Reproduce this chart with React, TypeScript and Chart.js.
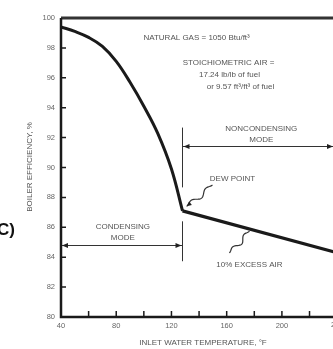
import { useEffect, useRef } from 'react';
import { Chart, registerables } from 'chart.js';

Chart.register(...registerables);

// ---- data ----
const condensingTemps = [40, 50, 60, 70, 80, 90, 100, 110, 120, 128];
const condensingEff = [99.4, 99.1, 98.7, 98.1, 97.1, 95.7, 94.1, 92.3, 89.9, 87.1];
const noncondensingTemps = [128, 240];
const noncondensingEff = [87.1, 84.3];
const xTickValues = [60, 80, 100, 120, 140, 160, 180, 200, 220];
const xLabelValues = [40, 80, 120, 160, 200];
const yTickValues = [82, 84, 86, 88, 90, 92, 94, 96, 98];
const dewPointTemp = 128;

const FONT = '"Liberation Sans", Arial, sans-serif';
const TEXT = '#555';
const LINE = '#1a1a1a';

function squiggle(ctx: CanvasRenderingContext2D, ax: number, ay: number, bx: number, by: number, arrowAtEnd: boolean) {
  const dx = bx - ax;
  const dy = by - ay;
  const len = Math.hypot(dx, dy);
  const ux = dx / len, uy = dy / len;
  const nx = -uy, ny = ux;
  ctx.beginPath();
  const n = 30;
  for (let i = 0; i <= n; i++) {
    const t = i / n;
    const env = Math.sin(Math.PI * t);
    const off = 3.2 * env * Math.sin(t * Math.PI * 3);
    const x = ax + dx * t + nx * off;
    const y = ay + dy * t + ny * off;
    if (i === 0) ctx.moveTo(x, y); else ctx.lineTo(x, y);
  }
  ctx.stroke();
  if (arrowAtEnd) {
    ctx.beginPath();
    ctx.moveTo(bx, by);
    ctx.lineTo(bx - ux * 5 + nx * 2.2, by - uy * 5 + ny * 2.2);
    ctx.lineTo(bx - ux * 5 - nx * 2.2, by - uy * 5 - ny * 2.2);
    ctx.closePath();
    ctx.fill();
  }
}

function arrowHead(ctx: CanvasRenderingContext2D, x: number, y: number, dir: number) {
  ctx.beginPath();
  ctx.moveTo(x, y);
  ctx.lineTo(x - dir * 6, y - 2.5);
  ctx.lineTo(x - dir * 6, y + 2.5);
  ctx.closePath();
  ctx.fill();
}

const annotationPlugin = {
  id: 'boilerAnnotations',
  afterDraw(chart: any) {
    const { ctx, chartArea } = chart;
    const xs = chart.scales.x;
    const ys = chart.scales.y;
    const px = (v: number) => xs.getPixelForValue(v);
    const py = (v: number) => ys.getPixelForValue(v);
    ctx.save();

    // frame: top line, left and bottom axes
    ctx.strokeStyle = '#333';
    ctx.lineWidth = 3;
    ctx.beginPath();
    ctx.moveTo(chartArea.left, chartArea.top);
    ctx.lineTo(chartArea.right, chartArea.top);
    ctx.stroke();
    ctx.strokeStyle = LINE;
    ctx.lineWidth = 2.5;
    ctx.beginPath();
    ctx.moveTo(chartArea.left, chartArea.top);
    ctx.lineTo(chartArea.left, chartArea.bottom);
    ctx.lineTo(chartArea.right, chartArea.bottom);
    ctx.stroke();

    // inside tick marks
    ctx.lineWidth = 1.5;
    ctx.beginPath();
    for (const v of xTickValues) {
      const x = px(v);
      ctx.moveTo(x, chartArea.bottom);
      ctx.lineTo(x, chartArea.bottom - 6);
    }
    for (const v of yTickValues) {
      const y = py(v);
      ctx.moveTo(chartArea.left, y);
      ctx.lineTo(chartArea.left + 5, y);
    }
    ctx.stroke();

    // texts
    ctx.fillStyle = TEXT;
    ctx.font = `8px ${FONT}`;
    ctx.textAlign = 'center';
    ctx.textBaseline = 'middle';
    const txt = (s: string, x: number, y: number) => ctx.fillText(s, px(x), py(y));
    txt('NATURAL GAS = 1050 Btu/ft\u00B3', 138.2, 98.66);
    txt('STOICHIOMETRIC AIR =', 161.3, 96.99);
    txt('17.24 lb/lb of fuel', 162, 96.19);
    txt('or 9.57 ft\u00B3/ft\u00B3 of fuel', 170, 95.38);
    txt('NONCONDENSING', 185.1, 92.58);
    txt('MODE', 185.1, 91.84);
    txt('CONDENSING', 84.8, 86.02);
    txt('MODE', 84.8, 85.28);
    txt('DEW POINT', 164.2, 89.23);
    txt('10% EXCESS AIR', 176.5, 83.48);

    // dew point vertical line
    ctx.strokeStyle = '#333';
    ctx.fillStyle = '#222';
    ctx.lineWidth = 1;
    const xd = px(dewPointTemp);
    ctx.beginPath();
    ctx.moveTo(xd, py(92.67));
    ctx.lineTo(xd, py(88.67));
    ctx.moveTo(xd, py(86.4));
    ctx.lineTo(xd, py(83.73));
    ctx.stroke();

    // noncondensing arrow
    const yN = Math.round(py(91.44)) + 0.5;
    ctx.beginPath();
    ctx.moveTo(xd, yN);
    ctx.lineTo(chartArea.right, yN);
    ctx.stroke();
    arrowHead(ctx, xd + 1, yN, -1);
    arrowHead(ctx, chartArea.right, yN, 1);

    // condensing arrow
    const yC = Math.round(py(84.82)) + 0.5;
    ctx.beginPath();
    ctx.moveTo(chartArea.left + 1, yC);
    ctx.lineTo(xd, yC);
    ctx.stroke();
    arrowHead(ctx, chartArea.left + 1, yC, -1);
    arrowHead(ctx, xd - 1, yC, 1);

    // squiggles
    ctx.lineWidth = 1.2;
    squiggle(ctx, px(149.7), py(88.83), px(131), py(87.4), true);
    squiggle(ctx, px(176.5), py(85.75), px(162), py(84.28), false);

    // axis titles
    ctx.fillStyle = TEXT;
    ctx.font = `8px ${FONT}`;
    ctx.textAlign = 'center';
    ctx.fillText('INLET WATER TEMPERATURE, \u00B0F', 203, 343);
    ctx.save();
    ctx.translate(30, 167);
    ctx.rotate(-Math.PI / 2);
    ctx.fillText('BOILER EFFICIENCY, %', 0, 0);
    ctx.restore();

    // partially visible tick label beyond the right edge
    ctx.fillStyle = '#666';
    ctx.font = `7.5px ${FONT}`;
    ctx.textBaseline = 'top';
    ctx.fillText('240', px(240), chartArea.bottom + 4);

    // panel label (cut at left edge)
    ctx.fillStyle = '#111';
    ctx.font = `bold 17px ${FONT}`;
    ctx.textAlign = 'right';
    ctx.textBaseline = 'middle';
    ctx.fillText('(C)', 15, 230);

    ctx.restore();
  },
};

export default function App() {
  const ref = useRef<HTMLCanvasElement | null>(null);
  useEffect(() => {
    if (!ref.current) return;
    const chart = new Chart(ref.current, {
      type: 'line',
      data: {
        datasets: [
          {
            data: condensingTemps.map((t, i) => ({ x: t, y: condensingEff[i] })),
            borderColor: LINE,
            borderWidth: 3,
            pointRadius: 0,
            tension: 0.4,
            fill: false,
          },
          {
            data: noncondensingTemps.map((t, i) => ({ x: t, y: noncondensingEff[i] })),
            borderColor: LINE,
            borderWidth: 3.2,
            pointRadius: 0,
            tension: 0,
            fill: false,
          },
        ],
      },
      options: {
        responsive: false,
        animation: false,
        layout: { padding: { top: 18, right: 0, left: 0, bottom: 0 } },
        plugins: { legend: { display: false }, tooltip: { enabled: false } },
        scales: {
          x: {
            type: 'linear',
            min: 40,
            max: 237,
            afterFit: (s: any) => { s.height = 32; s.paddingLeft = 0; s.paddingRight = 0; },
            grid: { display: false, drawTicks: false },
            border: { display: false },
            ticks: {
              stepSize: 20,
              autoSkip: false,
              maxRotation: 0,
              padding: 4,
              color: '#666',
              font: { family: FONT, size: 7.5 },
              callback: (v: any) => (xLabelValues.includes(Number(v)) ? String(v) : ''),
            },
          },
          y: {
            min: 80,
            max: 100,
            afterFit: (s: any) => { s.width = 61; s.paddingTop = 0; s.paddingBottom = 0; },
            grid: { display: false, drawTicks: false },
            border: { display: false },
            ticks: {
              stepSize: 2,
              padding: 6,
              color: '#666',
              font: { family: FONT, size: 7.5 },
            },
          },
        },
      },
      plugins: [annotationPlugin],
    } as any);
    return () => chart.destroy();
  }, []);
  return (
    <div style={{ position: 'fixed', left: 0, top: 0, width: 333, height: 349, background: '#fff' }}>
      <canvas ref={ref} width={333} height={349} style={{ display: 'block' }} />
    </div>
  );
}
